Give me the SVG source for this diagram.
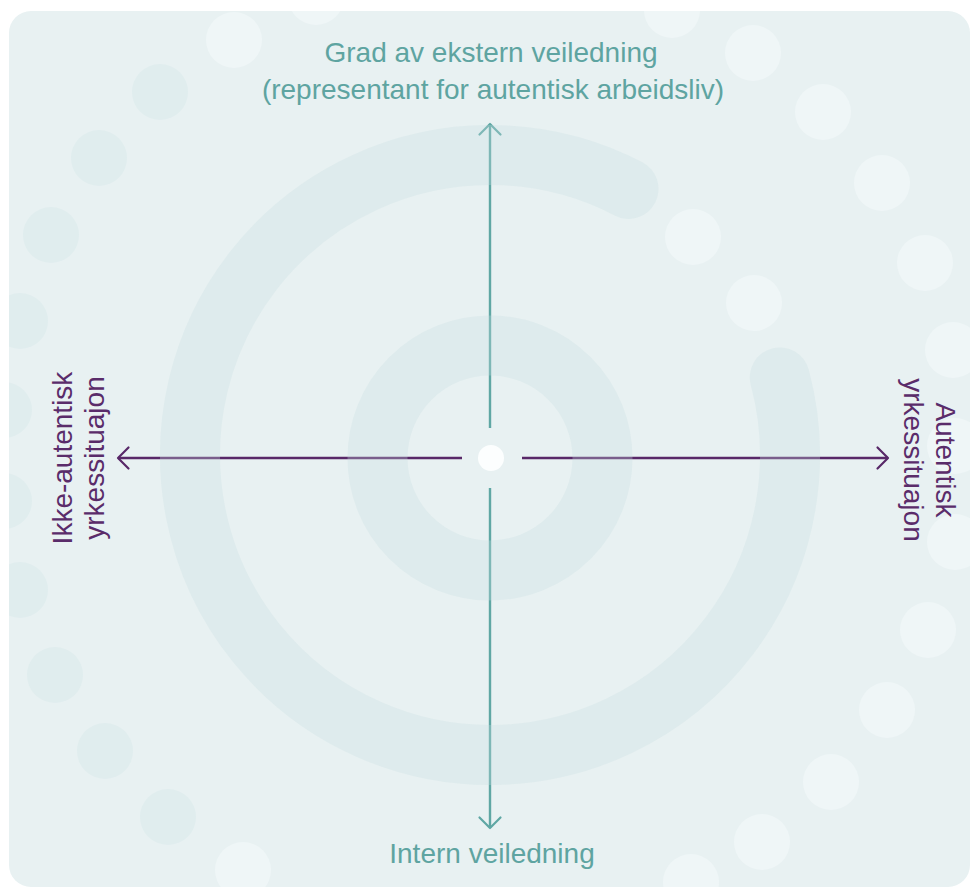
<svg xmlns="http://www.w3.org/2000/svg" width="978" height="893" viewBox="0 0 978 893">
  <style>
    .panel { fill: #e8f1f2; }
    .dot-dark { fill: #e0edee; }
    .dot-light { fill: #eff6f7; }
    .ring { fill: none; stroke: #c8dfe1; stroke-opacity: 0.3; stroke-width: 60; stroke-linecap: round; }
    .axis-v { fill: none; stroke: #5fa7a4; stroke-width: 2.4; }
    .axis-h { fill: none; stroke: #582868; stroke-width: 2.4; }
    .label { font-family: "Liberation Sans", Arial, sans-serif; font-size: 28px; }
    .teal { fill: #5ea4a1; }
    .purple { fill: #5a2c6a; }
  </style>
  <defs>
    <clipPath id="panel-clip">
      <rect x="9" y="11" width="961" height="876" rx="22"/>
    </clipPath>
    <marker id="head-teal" viewBox="-14 -14 16 28" markerWidth="16" markerHeight="28" refX="0" refY="0" orient="auto" markerUnits="userSpaceOnUse">
      <path d="M-10.5,-10.5 L0,0 L-10.5,10.5" fill="none" stroke="#5fa7a4" stroke-width="2.2" stroke-linecap="round" stroke-linejoin="round"/>
    </marker>
    <marker id="head-purple" viewBox="-14 -14 16 28" markerWidth="16" markerHeight="28" refX="0" refY="0" orient="auto" markerUnits="userSpaceOnUse">
      <path d="M-10.5,-10.5 L0,0 L-10.5,10.5" fill="none" stroke="#582868" stroke-width="2.2" stroke-linecap="round" stroke-linejoin="round"/>
    </marker>
  </defs>

  <!-- white page and rounded panel -->
  <rect x="0" y="0" width="978" height="893" fill="#ffffff"/>
  <rect class="panel" x="9" y="11" width="961" height="876" rx="22"/>

  <!-- decorative dot arcs -->
  <g id="dots" clip-path="url(#panel-clip)">
    <circle class="dot-light" cx="316" cy="-3" r="28"/>
    <circle class="dot-light" cx="234" cy="40" r="28"/>
    <circle class="dot-dark" cx="160" cy="92" r="28"/>
    <circle class="dot-dark" cx="99" cy="158" r="28"/>
    <circle class="dot-dark" cx="51" cy="235" r="28"/>
    <circle class="dot-dark" cx="20" cy="321" r="28"/>
    <circle class="dot-dark" cx="4" cy="410" r="28"/>
    <circle class="dot-dark" cx="4" cy="501" r="28"/>
    <circle class="dot-dark" cx="20" cy="590" r="28"/>
    <circle class="dot-dark" cx="55" cy="675" r="28"/>
    <circle class="dot-dark" cx="105" cy="751" r="28"/>
    <circle class="dot-dark" cx="168" cy="817" r="28"/>
    <circle class="dot-light" cx="243" cy="870" r="28"/>

    <circle class="dot-light" cx="672" cy="10" r="28"/>
    <circle class="dot-light" cx="753" cy="53" r="28"/>
    <circle class="dot-light" cx="823" cy="112" r="28"/>
    <circle class="dot-light" cx="882" cy="183" r="28"/>
    <circle class="dot-light" cx="925" cy="263" r="28"/>
    <circle class="dot-light" cx="953" cy="350" r="28"/>
    <circle class="dot-light" cx="955" cy="446" r="28"/>
    <circle class="dot-light" cx="955" cy="542" r="28"/>
    <circle class="dot-light" cx="928" cy="630" r="28"/>
    <circle class="dot-light" cx="887" cy="710" r="28"/>
    <circle class="dot-light" cx="831" cy="782" r="28"/>
    <circle class="dot-light" cx="762" cy="842" r="28"/>
    <circle class="dot-light" cx="691" cy="882" r="28"/>

    <circle class="dot-light" cx="693" cy="237" r="28"/>
    <circle class="dot-light" cx="754" cy="303" r="28"/>
  </g>

  <!-- axes -->
  <g id="connectors">
    <path id="axis-up" class="axis-v" d="M490,428 L490,124" marker-end="url(#head-teal)"/>
    <path id="axis-down" class="axis-v" d="M490,488 L490,828" marker-end="url(#head-teal)"/>
    <path id="axis-left" class="axis-h" d="M462,458 L118,458" marker-end="url(#head-purple)"/>
    <path id="axis-right" class="axis-h" d="M522,458 L888,458" marker-end="url(#head-purple)"/>
  </g>

  <!-- translucent rings laid over the axes -->
  <g id="rings">
    <path class="ring" d="M628.5,188.9 A300,300 0 1 0 779.8,377.4"/>
    <circle class="ring" cx="490" cy="458" r="112.5" stroke-linecap="butt"/>
  </g>

  <g id="center-dot">
    <circle cx="491" cy="458" r="13" fill="#fcfefe"/>
  </g>

  <g id="label-top">
    <text class="label teal" x="491" y="62" text-anchor="middle" font-size="28.5">Grad av ekstern veiledning</text>
    <text class="label teal" x="493" y="99" text-anchor="middle" font-size="28.5">(representant for autentisk arbeidsliv)</text>
  </g>

  <g id="label-bottom">
    <text class="label teal" x="492" y="863" text-anchor="middle">Intern veiledning</text>
  </g>

  <g id="label-left">
    <text class="label purple" transform="translate(72,458) rotate(-90)" text-anchor="middle"><tspan x="0" y="0">Ikke-autentisk</tspan><tspan x="0" dy="32">yrkessituajon</tspan></text>
  </g>

  <g id="label-right">
    <text class="label purple" transform="translate(936,460) rotate(90)" text-anchor="middle"><tspan x="0" y="0">Autentisk</tspan><tspan x="0" dy="32">yrkessituajon</tspan></text>
  </g>
</svg>
